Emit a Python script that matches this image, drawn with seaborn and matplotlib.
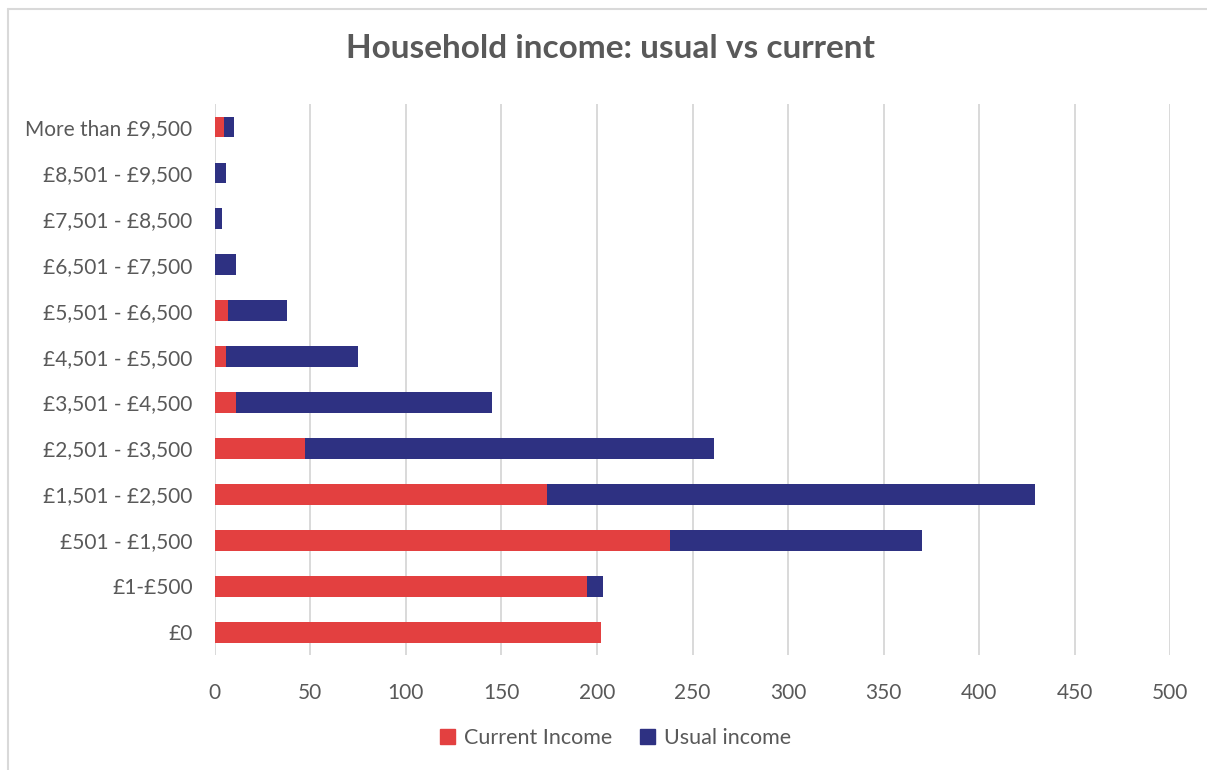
import matplotlib
matplotlib.use("Agg")
import matplotlib.pyplot as plt
from matplotlib.patches import Patch
from matplotlib.lines import Line2D
import seaborn as sns
import pandas as pd

# Household income bands, listed from the top row down
bands = [
    "More than £9,500", "£8,501 - £9,500", "£7,501 - £8,500", "£6,501 - £7,500",
    "£5,501 - £6,500", "£4,501 - £5,500", "£3,501 - £4,500", "£2,501 - £3,500",
    "£1,501 - £2,500", "£501 - £1,500", "£1-£500", "£0",
]
current_income = [5, 0, 0, 0, 7, 6, 11, 47, 174, 238, 195, 202]
usual_income = [5, 6, 4, 11, 31, 69, 134, 214, 255, 132, 8, 0]
x_ticks = [0, 50, 100, 150, 200, 250, 300, 350, 400, 450, 500]

RED = "#e34040"
BLUE = "#2e3182"
TEXT = "#595959"
GRID = "#d9d9d9"

df = pd.DataFrame({
    "band": bands,
    "current": current_income,
    "usual": usual_income,
})
df["total"] = df["current"] + df["usual"]

sns.set_theme(style="white")
plt.rcParams["font.family"] = ["Lato", "DejaVu Sans"]

fig = plt.figure(figsize=(12.07, 7.70), dpi=100)
ax = fig.add_axes([0.178, 0.149, 0.7915, 0.716])

# Stacked bars: full total in blue, current portion drawn over it in red
sns.barplot(data=df, y="band", x="total", order=bands, color=BLUE,
            width=0.45, saturation=1, linewidth=0, ax=ax, zorder=3)
sns.barplot(data=df, y="band", x="current", order=bands, color=RED,
            width=0.45, saturation=1, linewidth=0, ax=ax, zorder=4)

ax.set_xlim(0, 500)
ax.set_xticks(x_ticks)
ax.set_xticklabels([str(t) for t in x_ticks])
ax.set_ylim(len(bands) - 0.5, -0.5)
ax.set_xlabel("")
ax.set_ylabel("")
ax.grid(axis="x", color=GRID, linewidth=1.4, zorder=0)
ax.grid(axis="y", visible=False)
for s in ax.spines.values():
    s.set_visible(False)
ax.tick_params(axis="x", length=0, pad=20, labelsize=15, labelcolor=TEXT)
ax.tick_params(axis="y", length=0, pad=16, labelsize=15, labelcolor=TEXT)

fig.text(0.506, 0.937, "Household income: usual vs current", ha="center",
         va="center", fontsize=24, fontweight="bold", color=TEXT)

handles = [Patch(facecolor=RED, edgecolor=RED, label="Current Income"),
           Patch(facecolor=BLUE, edgecolor=BLUE, label="Usual income")]
fig.legend(handles=handles, loc="center", bbox_to_anchor=(0.51, 0.042), ncol=2,
           frameon=False, fontsize=15.5, labelcolor=TEXT, handlelength=0.7,
           handleheight=0.7, handletextpad=0.4, columnspacing=1.3)

# Chart-area border along the top and left edges
fig.add_artist(Line2D([8 / 1207, 8 / 1207], [0, 1 - 9 / 770],
                      transform=fig.transFigure, color=GRID, linewidth=1.5))
fig.add_artist(Line2D([8 / 1207, 1], [1 - 9 / 770, 1 - 9 / 770],
                      transform=fig.transFigure, color=GRID, linewidth=1.5))

fig.savefig("out.png", dpi=100, facecolor="white")
